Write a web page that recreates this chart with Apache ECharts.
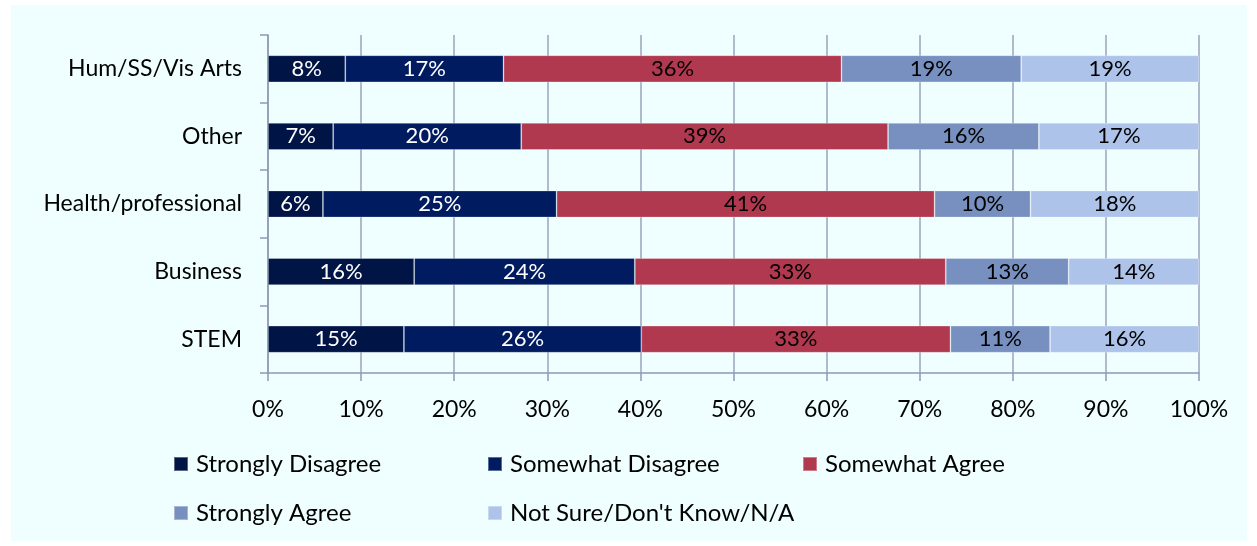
<!DOCTYPE html>
<html>
<head>
<meta charset="utf-8">
<script src="https://cdn.jsdelivr.net/npm/echarts@6/dist/echarts.min.js"></script>
<style>
  html, body { margin: 0; padding: 0; background: #ffffff; }
  #chart { width: 1257px; height: 546px; }
</style>
</head>
<body>
<div id="chart"></div>
<script>
// categories, top to bottom
const fields = ['Hum/SS/Vis Arts', 'Other', 'Health/professional', 'Business', 'STEM']

const stronglyDisagree = [8.3, 7.0, 5.9, 15.7, 14.6]
const somewhatDisagree = [17.0, 20.2, 25.1, 23.7, 25.5]
const somewhatAgree = [36.3, 39.4, 40.6, 33.4, 33.2]
const stronglyAgree = [19.3, 16.2, 10.3, 13.2, 10.7]
const notSure = [19.1, 17.2, 18.1, 14.0, 16.0]

const xTicks = [0, 10, 20, 30, 40, 50, 60, 70, 80, 90, 100]

const font = 'Lato'

function makeSeries(name, data, color, labelColor) {
  return {
    name: name,
    type: 'bar',
    stack: 'all',
    data: data,
    barWidth: 27,
    itemStyle: {
      color: color,
      borderColor: 'rgba(255,255,255,0.35)',
      borderWidth: 0.8
    },
    label: {
      show: true,
      position: 'inside',
      color: labelColor,
      fontFamily: font,
      fontSize: 22,
      formatter: p => Math.round(p.value) + '%'
    },
    emphasis: { disabled: true }
  }
}

const legendBase = {
  top: 452, orient: 'vertical', itemGap: 25, padding: 0,
  itemWidth: 14, itemHeight: 14, icon: 'rect',
  textStyle: { fontFamily: font, fontSize: 24, color: '#000', padding: [0, 0, 0, 3] }
}

const chart = echarts.init(document.getElementById('chart'))

const option = {
  backgroundColor: '#ffffff',
  animation: false,
  graphic: [{
    type: 'rect',
    z: -10,
    shape: { x: 11, y: 5, width: 1236, height: 536 },
    style: { fill: '#effefe' }
  }],
  grid: { left: 268, right: 58, top: 35, bottom: 173 },
  xAxis: {
    type: 'value',
    min: 0,
    max: 100,
    interval: 10,
    axisLine: { show: true, lineStyle: { color: '#8e9ab4', width: 1.5 } },
    axisTick: { show: true, length: 8, lineStyle: { color: '#8e9ab4', width: 1.5 } },
    splitLine: { show: true, lineStyle: { color: '#9aa4bc', width: 1.5 } },
    axisLabel: {
      color: '#000000',
      fontFamily: font,
      fontSize: 23,
      margin: 25,
      formatter: v => xTicks.includes(v) ? v + '%' : ''
    }
  },
  yAxis: {
    type: 'category',
    inverse: true,
    data: fields,
    axisLine: { show: true, lineStyle: { color: '#8e9ab4', width: 1.5 } },
    axisTick: { show: true, length: 8, lineStyle: { color: '#8e9ab4', width: 1.5 } },
    axisLabel: {
      color: '#000000',
      fontFamily: font,
      fontSize: 23,
      margin: 26
    }
  },
  legend: [
    Object.assign({}, legendBase, { left: 173, data: ['Strongly Disagree', 'Strongly Agree'] }),
    Object.assign({}, legendBase, { left: 487, data: ['Somewhat Disagree', "Not Sure/Don't Know/N/A"] }),
    Object.assign({}, legendBase, { left: 802, data: ['Somewhat Agree'] })
  ],
  series: [
    makeSeries('Strongly Disagree', stronglyDisagree, '#011446', '#ffffff'),
    makeSeries('Somewhat Disagree', somewhatDisagree, '#011b61', '#ffffff'),
    makeSeries('Somewhat Agree', somewhatAgree, '#b0384f', '#000000'),
    makeSeries('Strongly Agree', stronglyAgree, '#7790c0', '#000000'),
    makeSeries("Not Sure/Don't Know/N/A", notSure, '#adc3ea', '#000000')
  ]
}

chart.setOption(option)
</script>
</body>
</html>
